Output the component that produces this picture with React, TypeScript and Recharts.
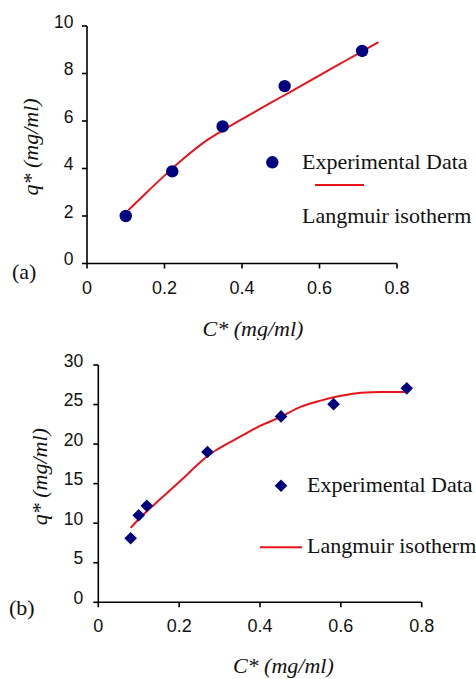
import React from "react";
import { ComposedChart, Line, Scatter, XAxis, YAxis, Legend } from "recharts";

// ---------- Panel (a) data ----------
const aExpC = [0.1, 0.22, 0.35, 0.51, 0.71];
const aExpQ = [2.0, 3.88, 5.77, 7.47, 8.95];
const aFitC = [0.107, 0.15, 0.2, 0.25, 0.3, 0.35, 0.4, 0.45, 0.5, 0.55, 0.6, 0.65, 0.7, 0.752];
const aFitQ = [2.25, 2.93, 3.7, 4.43, 5.08, 5.6, 6.08, 6.54, 7.0, 7.46, 7.92, 8.38, 8.84, 9.32];
const aYTicks = [0, 2, 4, 6, 8, 10];

// ---------- Panel (b) data ----------
const bExpC = [0.08, 0.1, 0.12, 0.27, 0.452, 0.582, 0.763];
const bExpQ = [8.1, 11.0, 12.2, 19.0, 23.5, 25.05, 27.05];
const bFitC = [0.08, 0.1, 0.12, 0.15, 0.2, 0.25, 0.27, 0.3, 0.35, 0.4, 0.45, 0.5, 0.55, 0.6, 0.65, 0.7, 0.763];
const bFitQ = [9.4, 10.5, 11.5, 12.9, 15.2, 17.6, 18.5, 19.5, 20.9, 22.3, 23.4, 24.7, 25.5, 26.1, 26.5, 26.6, 26.6];
const bYTicks = [0, 5, 10, 15, 20, 25, 30];

const xTicks = [0, 0.2, 0.4, 0.6, 0.8];
const expName = "Experimental Data";
const fitName = "Langmuir isotherm";
const xTitle = "C* (mg/ml)";
const yTitle = "q* (mg/ml)";

const toPts = (xs: number[], ys: number[]) => xs.map((x, i) => ({ x, y: ys[i] }));

const NAVY = "#00007f";
const RED = "#e8141c";
const SANS = "'Liberation Sans', Arial, sans-serif";
const SERIF = "'Liberation Serif', 'Times New Roman', serif";

const XTick = (p: any) => (
  <text x={p.x} y={p.y + 25} textAnchor="middle" fontFamily={SANS} fontSize={18} fill="#111">
    {p.payload.value}
  </text>
);
const YTick = (p: any) => (
  <text x={p.x} y={p.y + 1.5} textAnchor="end" fontFamily={SANS} fontSize={17.5} fill="#111">
    {p.payload.value}
  </text>
);

const CircleShape = (p: any) => <circle cx={p.cx} cy={p.cy} r={6.2} fill={NAVY} />;
const DiamondShape = (p: any) => (
  <path
    d={`M${p.cx},${p.cy - 6.3} L${p.cx + 6.3},${p.cy} L${p.cx},${p.cy + 6.3} L${p.cx - 6.3},${p.cy} Z`}
    fill={NAVY}
  />
);

const LegendA = () => (
  <svg width={476} height={340} style={{ position: "absolute", left: 0, top: 0 }}>
    <circle cx={272.3} cy={162.3} r={6.2} fill={NAVY} />
    <text x={302} y={168.5} fontFamily={SERIF} fontSize={22} fill="#111">{expName}</text>
    <line x1={315} y1={185} x2={364} y2={185} stroke={RED} strokeWidth={2} />
    <text x={302} y={222.5} fontFamily={SERIF} fontSize={22} fill="#111">{fitName}</text>
  </svg>
);

const LegendB = () => (
  <svg width={476} height={339} style={{ position: "absolute", left: 0, top: 0 }}>
    <path d="M281,139.4 L287.3,145.7 L281,152 L274.7,145.7 Z" fill={NAVY} />
    <text x={307} y={151.7} fontFamily={SERIF} fontSize={22} fill="#111">{expName}</text>
    <line x1={260} y1={207.3} x2={302} y2={207.3} stroke={RED} strokeWidth={2} />
    <text x={307} y={213.3} fontFamily={SERIF} fontSize={22} fill="#111">{fitName}</text>
  </svg>
);

const Titles = ({ yx, yy, xx, xy, lx, ly, tag, h }: any) => (
  <svg width={476} height={h} style={{ position: "absolute", left: 0, top: 0, pointerEvents: "none" }}>
    <text
      x={yx}
      y={yy}
      transform={`rotate(-90, ${yx}, ${yy})`}
      textAnchor="middle"
      dominantBaseline="central"
      fontFamily={SERIF}
      fontStyle="italic"
      fontSize={22}
      fill="#111"
    >
      {yTitle}
    </text>
    <text x={xx} y={xy} textAnchor="middle" fontFamily={SERIF} fontStyle="italic" fontSize={22} fill="#111">
      {xTitle}
    </text>
    <text x={lx} y={ly} fontFamily={SERIF} fontSize={22} fill="#111">{tag}</text>
  </svg>
);

const axisLine = { stroke: "#000", strokeWidth: 1.6 };
const tickLine = { stroke: "#000", strokeWidth: 1.6 };

export default function App() {
  return (
    <div style={{ position: "absolute", left: 0, top: 0, width: 476, height: 679, background: "#fff", overflow: "hidden" }}>
      <div style={{ position: "absolute", left: 0, top: 0, width: 476, height: 340 }}>
        <ComposedChart width={476} height={340} margin={{ top: 26, right: 79, bottom: 46.5, left: 0 }}>
          <XAxis
            type="number"
            dataKey="x"
            domain={[0, 0.8]}
            ticks={xTicks}
            height={30}
            axisLine={axisLine}
            tickLine={tickLine}
            tickSize={5}
            tickMargin={0}
            tick={<XTick />}
          />
          <YAxis
            type="number"
            dataKey="y"
            domain={[0, 10]}
            ticks={aYTicks}
            width={87}
            axisLine={axisLine}
            tickLine={tickLine}
            tickSize={5}
            tickMargin={8.5}
            tick={<YTick />}
          />
          <Line
            data={toPts(aFitC, aFitQ)}
            dataKey="y"
            name={fitName}
            type="monotone"
            stroke={RED}
            strokeWidth={2}
            dot={false}
            isAnimationActive={false}
          />
          <Scatter data={toPts(aExpC, aExpQ)} dataKey="y" name={expName} fill={NAVY} shape={<CircleShape />} isAnimationActive={false} />
          <Legend
            layout="horizontal"
            verticalAlign="middle"
            align="center"
            wrapperStyle={{ left: 0, top: 0, width: 476, height: 340 }}
            content={<LegendA />}
          />
        </ComposedChart>
        <Titles yx={30} yy={147} xx={253} xy={336} lx={12} ly={279} tag="(a)" h={340} />
      </div>
      <div style={{ position: "absolute", left: 0, top: 340, width: 476, height: 339 }}>
        <ComposedChart width={476} height={339} margin={{ top: 25, right: 54.3, bottom: 46.7, left: 0 }}>
          <XAxis
            type="number"
            dataKey="x"
            domain={[0, 0.8]}
            ticks={xTicks}
            height={30}
            axisLine={axisLine}
            tickLine={tickLine}
            tickSize={5}
            tickMargin={0}
            tick={<XTick />}
          />
          <YAxis
            type="number"
            dataKey="y"
            domain={[0, 30]}
            ticks={bYTicks}
            width={98.3}
            axisLine={axisLine}
            tickLine={tickLine}
            tickSize={5}
            tickMargin={10}
            tick={<YTick />}
          />
          <Line
            data={toPts(bFitC, bFitQ)}
            dataKey="y"
            name={fitName}
            type="monotone"
            stroke={RED}
            strokeWidth={2}
            dot={false}
            isAnimationActive={false}
          />
          <Scatter data={toPts(bExpC, bExpQ)} dataKey="y" name={expName} fill={NAVY} shape={<DiamondShape />} isAnimationActive={false} />
          <Legend
            layout="horizontal"
            verticalAlign="middle"
            align="center"
            wrapperStyle={{ left: 0, top: 0, width: 476, height: 339 }}
            content={<LegendB />}
          />
        </ComposedChart>
        <Titles yx={40} yy={136.7} xx={283.3} xy={333} lx={9} ly={275} tag="(b)" h={339} />
      </div>
    </div>
  );
}
